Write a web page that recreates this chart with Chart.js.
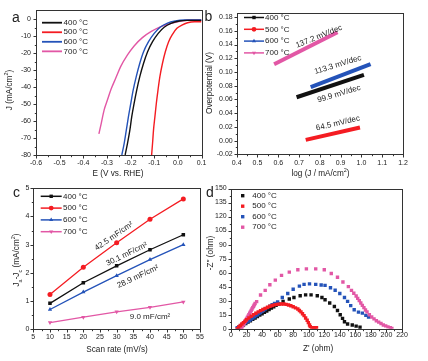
<!DOCTYPE html>
<html>
<head>
<meta charset="utf-8">
<script src="https://cdn.jsdelivr.net/npm/chart.js@4.4.0/dist/chart.umd.min.js"></script>
<style>
  body { margin: 0; background: #fff; }
  #page { position: relative; width: 428px; height: 361px; overflow: hidden; font-family: "Liberation Sans", Arial, sans-serif; color: #222; }
  canvas { position: absolute; }
  .t { position: absolute; font-size: 8.2px; white-space: nowrap; line-height: 1; transform: translate(-50%, -50%); }
  .ty { transform: translate(-50%, -50%) rotate(-90deg); }
  .lt { position: absolute; font-size: 14px; line-height: 1; transform: translate(-50%, -50%); }
  sup, sub { font-size: 5.5px; line-height: 0; }
</style>
</head>
<body>
<div id="page">
  <canvas id="ca" width="214" height="180" style="left:0;top:0;width:214px;height:180px"></canvas>
  <canvas id="cb" width="214" height="180" style="left:214px;top:0;width:214px;height:180px"></canvas>
  <canvas id="cc" width="214" height="181" style="left:0;top:180px;width:214px;height:181px"></canvas>
  <canvas id="cd" width="214" height="181" style="left:214px;top:180px;width:214px;height:181px"></canvas>

  <div class="lt" style="left:16px;top:17px">a</div>
  <div class="lt" style="left:208.5px;top:15.5px">b</div>
  <div class="lt" style="left:16.5px;top:192px">c</div>
  <div class="lt" style="left:210px;top:191.5px">d</div>

  <div class="t" style="left:118px;top:174px">E (V vs. RHE)</div>
  <div class="t ty" style="left:10px;top:90px">J (mA/cm<sup>2</sup>)</div>
  <div class="t" style="left:320.5px;top:174px">log (J / mA/cm<sup>2</sup>)</div>
  <div class="t ty" style="left:210px;top:83px">Overpotential (V)</div>
  <div class="t" style="left:117px;top:350px">Scan rate (mV/s)</div>
  <div class="t ty" style="left:17px;top:260px">J<sub>a</sub>-J<sub>c</sub> (mA/cm<sup>2</sup>)</div>
  <div class="t" style="left:318px;top:349px">Z' (ohm)</div>
  <div class="t ty" style="left:210.5px;top:253px">-Z'' (ohm)</div>
</div>
<script>
const FONT = '"Liberation Sans", Arial, sans-serif';
const INK = '#222';

// series names and colours
const tempLabels = ['400 °C', '500 °C', '600 °C', '700 °C'];
const tempColors = ['#111111', '#f41c22', '#2453b9', '#e257a5'];
const markerStyles = ['rect', 'circle', 'triangle', 'triangle'];
const markerTurns = [0, 0, 0, 180];

// a: polarization curves, E (V vs RHE) and J (mA/cm2)
const lsvE400 = [-0.223, -0.213, -0.203, -0.195, -0.185, -0.174, -0.161, -0.145, -0.128, -0.107, -0.083, -0.058, -0.029, 0.006, 0.041, 0.1];
const lsvJ400 = [-80, -73.1, -65.3, -57.4, -49.5, -41.7, -33.8, -25.9, -19.1, -13.2, -8.3, -4.7, -2.4, -1, -0.6, -0.6];
const lsvE500 = [-0.111, -0.107, -0.103, -0.097, -0.091, -0.084, -0.076, -0.065, -0.053, -0.039, -0.022, -0.004, 0.017, 0.041, 0.07, 0.1];
const lsvJ500 = [-80, -73.1, -65.3, -57.4, -49.5, -41.7, -33.8, -25.9, -19.1, -13.2, -8.7, -5.3, -3.4, -2, -1.4, -1.4];
const lsvE600 = [-0.237, -0.227, -0.218, -0.209, -0.199, -0.189, -0.176, -0.161, -0.145, -0.124, -0.1, -0.075, -0.046, -0.011, 0.027, 0.1];
const lsvJ600 = [-80, -73.1, -65.3, -57.4, -49.5, -41.7, -33.8, -25.9, -19.1, -13.2, -8.3, -4.7, -2.4, -1, -0.4, -0.4];
const lsvE700 = [-0.334, -0.324, -0.312, -0.298, -0.281, -0.263, -0.242, -0.213, -0.185, -0.15, -0.114, -0.072, -0.029, 0.013, 0.055, 0.1];
const lsvJ700 = [-67.6, -61.3, -53.5, -47.6, -40.7, -34.8, -27.9, -21, -15.7, -10.8, -7.3, -4.3, -2.4, -1, -0.4, -0.4];
const aTicksX = [-0.6, -0.5, -0.4, -0.3, -0.2, -0.1, 0, 0.1];
const aTicksY = [-80, -70, -60, -50, -40, -30, -20, -10, 0];

// b: Tafel lines, log J and overpotential (V)
const tafelLog400 = [0.688, 1.012];
const tafelEta400 = [0.0632, 0.0958];
const tafelLog500 = [0.732, 0.993];
const tafelEta500 = [0.001, 0.019];
const tafelLog600 = [0.756, 1.044];
const tafelEta600 = [0.0778, 0.1114];
const tafelLog700 = [0.58, 0.885];
const tafelEta700 = [0.1114, 0.158];
const tafelSlopes = ['99.9 mV/dec', '64.5 mV/dec', '113.3 mV/dec', '137.2 mV/dec'];
const bTicksX = [0.4, 0.5, 0.6, 0.7, 0.8, 0.9, 1.0, 1.1, 1.2];
const bTicksY = [-0.02, 0, 0.02, 0.04, 0.06, 0.08, 0.1, 0.12, 0.14, 0.16, 0.18];

// c: double layer current vs scan rate
const scanRates = [10, 20, 30, 40, 50];
const dj400 = [0.92, 1.65, 2.25, 2.82, 3.35];
const dj500 = [1.23, 2.2, 3.07, 3.9, 4.62];
const dj600 = [0.7, 1.32, 1.9, 2.47, 3.0];
const dj700 = [0.24, 0.43, 0.62, 0.78, 0.97];
const cdlValues = ['30.1 mF/cm²', '42.5 mF/cm²', '28.9 mF/cm²', '9.0 mF/cm²'];
const cTicksX = [5, 10, 15, 20, 25, 30, 35, 40, 45, 50, 55];
const cTicksY = [0, 1, 2, 3, 4, 5];

// d: Nyquist plots, Z' and -Z'' (ohm)
const eis400Re = [10, 13, 16, 19, 22, 25, 28, 31, 34, 37, 40, 43, 46, 49, 52, 55, 58, 61, 67, 75, 81, 89, 96, 103, 111, 117, 121, 127, 133, 137, 140.5, 143.5, 146, 150, 156, 161, 166];
const eis400Im = [1, 2.5, 4, 5.5, 7, 8.5, 10, 11.5, 13, 14.5, 16, 17.5, 19, 20.5, 22, 23.5, 25, 26.5, 29.2, 31.7, 33.4, 35.2, 36.2, 36.2, 35.2, 33.4, 31, 27.5, 23.7, 19.5, 15, 11, 7.5, 5, 4, 2.8, 1.5];
const eis500Re = [8, 10, 12, 14, 16, 18, 20, 23, 26, 29, 32, 35, 38, 41, 44, 47, 50, 53, 56, 59, 62, 65, 68, 71, 74, 77, 80, 83, 86, 88, 90, 92, 94, 96, 98, 99.5, 101, 102, 104, 106, 108, 110];
const eis500Im = [0, 2, 3.5, 5, 6.5, 8, 9.5, 11.5, 13.3, 15, 16.5, 18, 19.3, 20.6, 21.8, 23, 24, 24.8, 25.5, 26, 26.3, 26.5, 26.4, 26, 25.3, 24.5, 23.5, 22.3, 21, 19.5, 18, 16, 14, 11.5, 9, 6.5, 4, 2.2, 1.2, 1, 1, 1];
const eis600Re = [8, 10, 12, 14, 16, 18, 20, 22, 24, 26, 28, 30, 32, 34, 36, 38, 40, 42, 44, 47, 50, 53, 56, 60, 66, 73, 80, 88, 94, 101, 109, 116, 121, 128, 134, 140, 146, 150, 154, 158.5, 164, 169, 173.5, 177];
const eis600Im = [1, 2, 3, 4, 5, 6, 7, 8, 9, 10.2, 11.4, 12.6, 13.8, 15, 16.2, 17.4, 18.6, 19.8, 21, 22.6, 24.2, 25.6, 27, 28.5, 33.4, 37.6, 42.2, 45.6, 47.4, 48, 47.4, 46.8, 46.3, 43.8, 41.1, 37.6, 33.4, 29.2, 24.7, 20.2, 17.7, 16.7, 14.3, 12.5];
const eis700Re = [13, 14, 15, 16, 17, 18, 19, 20, 21, 22, 23, 24, 25, 26, 27, 28, 29, 30, 31, 33, 38, 44, 50, 57, 65, 75, 86, 97, 109, 120, 129, 137, 144, 151, 155, 158, 161, 163, 165, 167, 169, 171, 173, 175, 178, 181, 184, 187, 190, 193, 196, 199, 202, 205, 207];
const eis700Im = [0, 1.5, 3, 4.5, 6, 7.5, 9, 10.5, 12, 13.5, 15, 16.5, 18, 19.5, 21, 22.5, 24, 25.5, 27, 29, 36, 41, 47, 52, 57, 60.5, 63, 64, 64, 63, 59, 55, 50, 45, 41, 38, 35, 32.5, 30, 27.5, 25, 22.5, 20, 18, 15, 12.5, 10.5, 8.5, 7, 5.5, 4, 3, 2, 1, 0.3];
const dTicksX = [0, 20, 40, 60, 80, 100, 120, 140, 160, 180, 200, 220];
const dTicksY = [0, 15, 30, 45, 60, 75, 90, 105, 120, 135, 150];

const pts = (xs, ys) => xs.map((x, i) => ({x: x, y: ys[i]}));

//axis with fixed size and ticks taken from a list
function makeAxis(pos, min, max, ticks, dec, size, pad) {
    return {
        type: 'linear', position: pos, min: min, max: max,
        grid: {display: false, drawTicks: false, tickLength: 0}, border: {display: false},
        afterBuildTicks: s => { s.ticks = ticks.map(v => ({value: v})); },
        afterFit: s => { if (pos === 'bottom') s.height = size; else s.width = size; },
        ticks: {
            autoSkip: false, maxRotation: 0, minRotation: 0, padding: pad, color: INK,
            font: {family: FONT, size: 7},
            callback: v => (Math.abs(v) < 1e-9 ? 0 : v).toFixed(dec)
        }
    };
}

//frame round the plot, major and minor ticks pointing out
const axesBox = {
    id: 'axesBox',
    afterDraw(chart) {
        const {ctx, chartArea: a, scales} = chart;
        const L = Math.round(a.left) + 0.5, T = Math.round(a.top) + 0.5;
        const R = Math.round(a.right) + 0.5, B = Math.round(a.bottom) + 0.5;
        ctx.save();
        ctx.strokeStyle = '#333';
        ctx.lineWidth = 1;
        ctx.strokeRect(L, T, R - L, B - T);
        ctx.beginPath();
        const mark = (s, v, len) => {
            const p = Math.round(s.getPixelForValue(v)) + 0.5;
            if (s.isHorizontal()) { ctx.moveTo(p, B); ctx.lineTo(p, B + len); }
            else { ctx.moveTo(L, p); ctx.lineTo(L - len, p); }
        };
        [scales.x, scales.y].forEach(s => {
            const vals = s.ticks.map(t => t.value);
            vals.forEach((v, i) => {
                mark(s, v, 3);
                if (i < vals.length - 1) mark(s, (v + vals[i + 1]) / 2, 1.7);
            });
        });
        ctx.stroke();
        ctx.restore();
    }
};

//legend drawn inside the plot
function keyBox(o) {
    return {
        id: 'keyBox',
        afterDraw(chart) {
            const ctx = chart.ctx;
            ctx.save();
            ctx.font = '8px ' + FONT;
            ctx.textBaseline = 'middle';
            chart.data.datasets.forEach((ds, i) => {
                const y = o.y + i * o.step;
                const c = ds.borderColor;
                if (o.len) {
                    ctx.strokeStyle = c;
                    ctx.lineWidth = o.lineWidth;
                    ctx.beginPath();
                    ctx.moveTo(o.x, y);
                    ctx.lineTo(o.x + o.len, y);
                    ctx.stroke();
                }
                if (o.marker) {
                    ctx.fillStyle = c;
                    ctx.strokeStyle = c;
                    Chart.helpers.drawPoint(ctx, {pointStyle: ds.pointStyle, rotation: ds.pointRotation || 0, radius: o.marker, borderWidth: 0}, o.x + (o.len || 0) / 2, y);
                }
                ctx.fillStyle = INK;
                ctx.fillText(ds.label, o.textX, y);
            });
            ctx.restore();
        }
    };
}

//rotated notes placed in data space
function notes(items) {
    return {
        id: 'notes',
        afterDatasetsDraw(chart) {
            const {ctx, scales} = chart;
            ctx.save();
            ctx.font = '8px ' + FONT;
            ctx.fillStyle = INK;
            ctx.textAlign = 'center';
            ctx.textBaseline = 'middle';
            items.forEach(n => {
                ctx.save();
                ctx.translate(scales.x.getPixelForValue(n.x), scales.y.getPixelForValue(n.y));
                ctx.rotate(-n.angle * Math.PI / 180);
                ctx.fillText(n.text, 0, 0);
                ctx.restore();
            });
            ctx.restore();
        }
    };
}

function draw(id, datasets, scales, pad, extra) {
    return new Chart(document.getElementById(id), {
        type: 'scatter',
        data: {datasets: datasets},
        options: {
            responsive: false, animation: false, devicePixelRatio: 1,
            layout: {padding: pad},
            scales: scales,
            plugins: {legend: {display: false}, tooltip: {enabled: false}}
        },
        plugins: [axesBox].concat(extra)
    });
}

// a
const lsvE = [lsvE400, lsvE500, lsvE600, lsvE700];
const lsvJ = [lsvJ400, lsvJ500, lsvJ600, lsvJ700];
draw('ca',
    tempLabels.map((label, i) => ({
        label: label, data: pts(lsvE[i], lsvJ[i]), showLine: true,
        borderColor: tempColors[i], borderWidth: 1.4, pointRadius: 0, cubicInterpolationMode: 'monotone'
    })),
    {x: makeAxis('bottom', -0.6, 0.1, aTicksX, 1, 25, 3.8), y: makeAxis('left', -80, 5.5, aTicksY, 0, 36, 5)},
    {left: 0, top: 10, right: 12.5, bottom: 0},
    [keyBox({x: 42, len: 20, lineWidth: 1.8, textX: 63.5, y: 22.7, step: 9.55})]
);

// b
const tafelLog = [tafelLog400, tafelLog500, tafelLog600, tafelLog700];
const tafelEta = [tafelEta400, tafelEta500, tafelEta600, tafelEta700];
draw('cb',
    tempLabels.map((label, i) => ({
        label: label, data: pts(tafelLog[i], tafelEta[i]), showLine: true,
        borderColor: tempColors[i], backgroundColor: tempColors[i], borderWidth: 4, pointRadius: 0,
        pointStyle: markerStyles[i], pointRotation: markerTurns[i]
    })),
    {x: makeAxis('bottom', 0.4, 1.2, bTicksX, 1, 25.7, 4.8), y: makeAxis('left', -0.02, 0.186, bTicksY, 2, 22.7, 4)},
    {left: 0, top: 13, right: 25, bottom: 0},
    [keyBox({x: 30, len: 20, lineWidth: 1.5, marker: 2.4, textX: 51, y: 17.5, step: 11.8}),
     notes([
        {text: tafelSlopes[0], x: 0.892, y: 0.068, angle: 17},
        {text: tafelSlopes[1], x: 0.887, y: 0.0253, angle: 13},
        {text: tafelSlopes[2], x: 0.887, y: 0.1104, angle: 17},
        {text: tafelSlopes[3], x: 0.796, y: 0.1517, angle: 22}
     ])]
);

// c
const djs = [dj400, dj500, dj600, dj700];
draw('cc',
    tempLabels.map((label, i) => ({
        label: label, data: pts(scanRates, djs[i]), showLine: true,
        borderColor: tempColors[i], backgroundColor: tempColors[i], borderWidth: 1.3,
        pointRadius: 2.5, pointBorderWidth: 0, pointStyle: markerStyles[i], pointRotation: markerTurns[i]
    })),
    {x: makeAxis('bottom', 5, 55, cTicksX, 0, 31.7, 3.2), y: makeAxis('left', 0, 5, cTicksY, 0, 33.3, 4)},
    {left: 0, top: 4.3, right: 14, bottom: 0},
    [keyBox({x: 40.7, len: 21, lineWidth: 1.5, marker: 2.4, textX: 63, y: 16.3, step: 11.8}),
     notes([
        {text: cdlValues[0], x: 33.0, y: 2.66, angle: 26},
        {text: cdlValues[1], x: 29.2, y: 3.30, angle: 35},
        {text: cdlValues[2], x: 36.4, y: 1.87, angle: 25},
        {text: cdlValues[3], x: 40.0, y: 0.43, angle: 0}
     ])]
);

// d
const eisRe = [eis400Re, eis500Re, eis600Re, eis700Re];
const eisIm = [eis400Im, eis500Im, eis600Im, eis700Im];
const eisOrder = [3, 0, 2, 1];
draw('cd',
    tempLabels.map((label, i) => ({
        label: label, data: pts(eisRe[i], eisIm[i]), showLine: false, order: eisOrder[i],
        borderColor: tempColors[i], backgroundColor: tempColors[i],
        pointRadius: 2.4, pointBorderWidth: 0, pointStyle: 'rect'
    })),
    {x: makeAxis('bottom', 0, 220, dTicksX, 0, 32.3, 2.4), y: makeAxis('left', 0, 150, dTicksY, 0, 17, 4.3)},
    {left: 0, top: 5, right: 26, bottom: 0},
    [keyBox({x: 28.7, marker: 2.4, textX: 38.3, y: 15.7, step: 10.5})]
);
</script>
</body>
</html>
